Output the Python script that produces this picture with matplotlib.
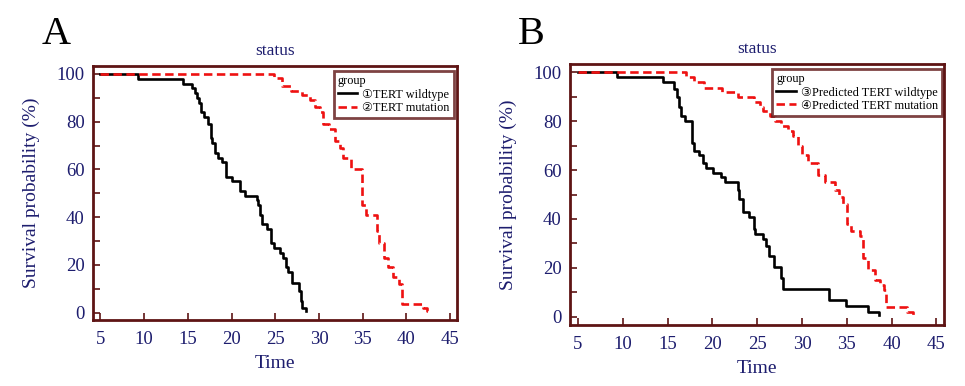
import matplotlib.pyplot as plt

# Kaplan-Meier step data (time, survival %)
a_wt_time = [5, 9.3, 14.5, 15.5, 15.8, 16.1, 16.3, 16.5, 16.9, 17.3, 17.6, 17.8,
             18.1, 18.5, 18.9, 19.35, 20.1, 21.0, 21.5, 22.9, 23.0, 23.2, 23.5,
             24.0, 24.5, 24.8, 25.5, 25.9, 26.2, 26.5, 26.9, 27.7, 27.9, 28.1, 28.5]
a_wt_surv = [100, 98, 96, 94, 92, 90, 88, 84, 82, 79, 73, 71, 67, 65, 63, 57, 55,
             51, 49, 47, 45, 41, 37, 35, 29, 27, 25, 23, 19, 17, 12.5, 9, 5, 2, 0.5]

a_mut_time = [5, 24.85, 25.8, 26.8, 28.0, 29.0, 29.5, 30.1, 30.5, 31.1, 31.8, 32.4,
              32.8, 33.7, 34.9, 35.4, 36.6, 36.9, 37.4, 37.9, 38.5, 39.1, 39.5,
              41.9, 42.3, 42.6]
a_mut_surv = [100, 98.5, 95, 93, 91, 89, 86, 84, 79, 77, 72, 69, 65, 60, 45, 41,
              34, 29, 23, 19, 15, 12, 3.5, 2, 0.5, 0.5]

b_wt_time = [5, 9.3, 14.5, 15.7, 16.0, 16.3, 16.45, 16.9, 17.7, 18.0, 18.5, 18.9,
             19.3, 20.1, 21.0, 21.4, 22.8, 23.0, 23.4, 24.1, 24.6, 24.8, 25.6,
             26.0, 26.3, 26.9, 27.7, 27.9, 33.05, 34.9, 37.4, 38.6]
b_wt_surv = [100, 98, 96, 93, 90, 86, 82, 80, 71, 68, 66, 63, 61, 59, 57, 55, 52,
             48, 43, 41, 36, 34, 32, 29, 25, 20.5, 16, 11.5, 7, 4.5, 2, 0.5]

b_mut_time = [5, 17.1, 17.9, 19.1, 21.1, 22.9, 24.6, 25.3, 25.7, 26.4, 27.0, 27.7,
              28.4, 29.0, 29.6, 29.95, 30.7, 31.8, 32.6, 33.7, 34.1, 34.6, 34.98,
              35.5, 36.5, 36.8, 37.4, 38.1, 38.7, 39.1, 39.4, 41.7, 42.4, 42.6]
b_mut_surv = [100, 98, 96, 93.5, 92, 90, 88, 86, 84, 82, 80, 78, 76, 74, 70, 66,
              63, 58, 55, 52, 49, 46, 38, 35, 33, 24, 19, 15, 13, 11, 4, 2, 0.5, 0.5]

panels = [
    ("A", [0.0964, 0.171, 0.377, 0.658], a_wt_time, a_wt_surv, a_mut_time, a_mut_surv,
     ["\u2460TERT wildtype", "\u2461TERT mutation"], (4.16, 45.76), (-3.1, 103.35),
     (0.992, 0.98), (0.043, 0.885)),
    ("B", [0.5907, 0.158, 0.3876, 0.676], b_wt_time, b_wt_surv, b_mut_time, b_mut_surv,
     ["\u2462Predicted TERT wildtype", "\u2463Predicted TERT mutation"], (4.11, 45.85),
     (-3.4, 103.4), (0.995, 0.981), (0.537, 0.885)),
]

navy = "#1d1d6e"
maroon = "#5e1414"
serif = ["Liberation Serif", "DejaVu Serif"]
plt.rcParams["font.family"] = serif

fig = plt.figure(figsize=(9.65, 3.86), dpi=100)

for letter, rect, t1, s1, t2, s2, labels, xlim, ylim, leg_anchor, letter_pos in panels:
    ax = fig.add_axes(rect)
    ax.step(t1, s1, where="post", color="black", lw=1.9, label=labels[0])
    ax.step(t2, s2, where="post", color="#ee1111", lw=1.9,
            linestyle=(0, (3.2, 1.7)), label=labels[1])
    ax.set_xlim(*xlim)
    ax.set_ylim(*ylim)
    ax.set_xticks(range(5, 50, 5))
    ax.set_yticks(range(0, 101, 20))
    ax.set_yticks(range(10, 100, 20), minor=True)
    ax.tick_params(axis="both", which="both", direction="in", color=maroon,
                   labelcolor=navy, labelsize=13.5, length=5, width=1.2)
    ax.tick_params(axis="x", pad=8)
    ax.tick_params(axis="y", pad=6)
    ax.tick_params(top=False, right=False)
    for sp in ax.spines.values():
        sp.set_color(maroon)
        sp.set_linewidth(2)
    ax.set_title("status", color=navy, fontsize=12.5, pad=8)
    ax.set_xlabel("Time", color=navy, fontsize=14, labelpad=5)
    ax.set_ylabel("Survival probability (%)", color=navy, fontsize=14, labelpad=12)
    leg = ax.legend(loc="upper right", bbox_to_anchor=leg_anchor, borderaxespad=0,
                    title="group", alignment="left", fancybox=False,
                    prop={"family": ["Liberation Serif", "DejaVu Sans"], "size": 8.8},
                    title_fontproperties={"family": serif, "size": 8.8},
                    handlelength=1.6, handletextpad=0.4, labelspacing=0.1,
                    borderpad=0.35)
    leg.get_frame().set_edgecolor(maroon)
    leg.get_frame().set_linewidth(2)
    fig.text(letter_pos[0], letter_pos[1], letter, fontsize=29, color="black")

fig.savefig("out.png", dpi=100)
